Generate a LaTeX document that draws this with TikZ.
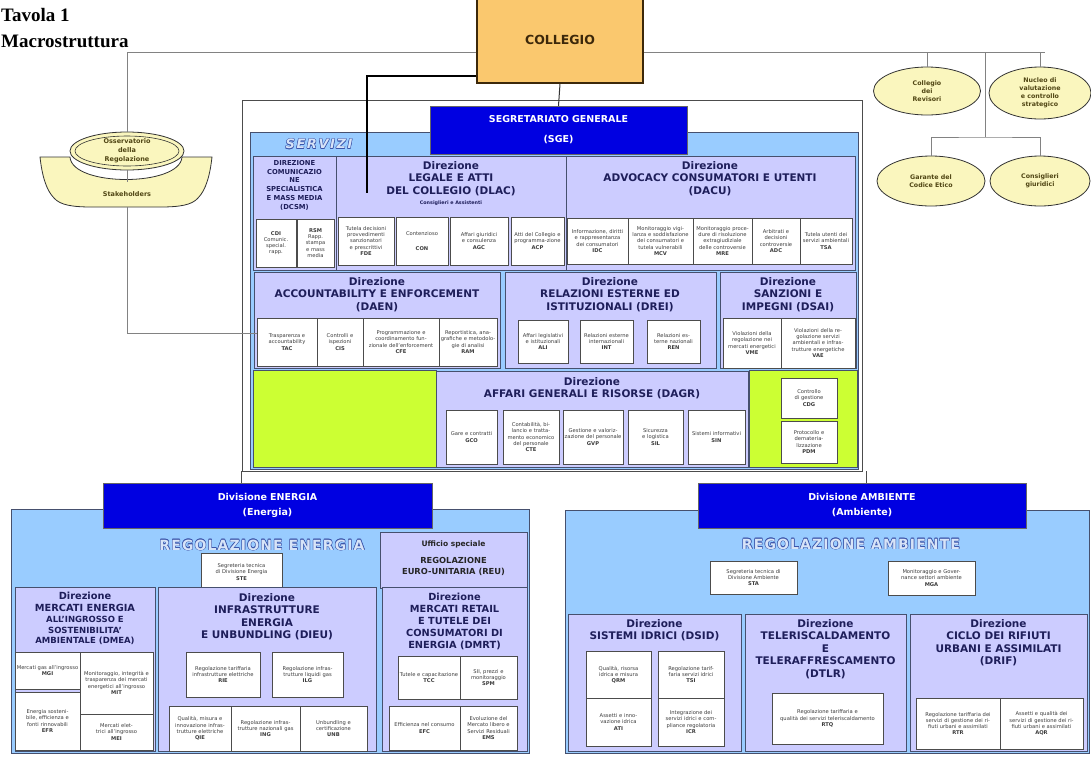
\documentclass[tikz,border=0pt]{standalone}
\usepackage{fontspec}
\setmainfont{DejaVu Sans}
\newfontfamily\serifT{Liberation Serif}
\usetikzlibrary{shapes.geometric}
\definecolor{lblue}{RGB}{153,204,255}
\definecolor{lav}{RGB}{204,204,255}
\definecolor{dblue}{RGB}{0,0,225}
\definecolor{lgreen}{RGB}{204,255,51}
\definecolor{cream}{RGB}{250,246,190}
\definecolor{corange}{RGB}{250,200,110}
\definecolor{bordc}{RGB}{70,80,110}
\definecolor{navy}{RGB}{30,30,90}
\definecolor{glinec}{RGB}{130,130,130}
\definecolor{outc}{RGB}{60,85,170}
\definecolor{outf}{RGB}{215,228,248}
\definecolor{olive}{RGB}{80,70,20}
\definecolor{stxt}{RGB}{60,60,60}
\definecolor{brownc}{RGB}{60,40,10}

\tikzset{
 dirbox/.style={draw=bordc, fill=lav, line width=0.8pt},
 subbox/.style={draw=black!70, fill=white, line width=0.6pt, font=\fontsize{5.2}{6.2}\selectfont, text=stxt},
 bgbox/.style={draw=bordc, fill=lblue, line width=0.8pt},
 divbox/.style={draw=black!60, fill=dblue, text=white, font=\bfseries\fontsize{9.5}{15}\selectfont},
 greenbox/.style={draw=bordc, fill=lgreen, line width=0.6pt},
 ttl/.style={font=\bfseries\fontsize{10.5}{12.5}\selectfont, text=navy, align=center, inner sep=0pt, anchor=north},
 ttlsmall/.style={font=\bfseries\fontsize{8.5}{10.5}\selectfont, text=navy, align=center, inner sep=0pt, anchor=north},
 ellbox/.style={ellipse, draw=black!80, fill=cream, line width=0.8pt, inner sep=0pt},
 elltxt/.style={font=\bfseries\fontsize{6.3}{8}\selectfont, text=olive, align=center, inner sep=0pt},
 conn/.style={draw=glinec, line width=1pt},
}

\newcommand\obox[7]{%
 \pgfmathsetmacro\obw{(#5)-(#3)}%
 \pgfmathsetmacro\obh{(#6)-(#4)}%
 \pgfmathsetmacro\otw{max(\obw-3,1)}%
 \node[#2, minimum width=\obw pt, minimum height=\obh pt, text width=\otw pt, align=center, inner sep=0pt] (#1) at ({((#3)+(#5))/2},{((#4)+(#6))/2}) {#7};}

\newcommand\outtext[5]{%
 \foreach \odx/\ody in {-.5/0,.5/0,0/-.5,0/.5,-.35/-.35,.35/.35,-.35/.35,.35/-.35}
   {\node[font=#4, text=outc, inner sep=0pt, xshift=\odx pt, yshift=\ody pt] at (#2,#3) {#5};}
 \node[font=#4, text=outf, inner sep=0pt] (#1) at (#2,#3) {#5};}

\begin{document}
\begin{tikzpicture}[x=1pt,y=-1pt]
\useasboundingbox[fill=white] (0,0) rectangle (1091,756);

% title
\node[font=\serifT\bfseries\fontsize{19}{23}\selectfont, anchor=base west, inner sep=0pt] (tav) at (1,21) {Tavola 1};
\node[font=\serifT\bfseries\fontsize{19}{23}\selectfont, anchor=base west, inner sep=0pt] (macro) at (1,47) {Macrostruttura};

% grey top line
\coordinate (hlA) at (127,52);
\coordinate (hlB) at (1045,52);
\draw[conn] (hlA) -- (hlB);

% right ellipses
\node[ellbox, minimum width=107pt, minimum height=48pt] (rev) at (927,91) {};
\node[elltxt] (revt) at (rev.center) {Collegio\\dei\\Revisori};
\node[ellbox, minimum width=102pt, minimum height=52pt] (nuc) at (1040,93) {};
\node[elltxt] (nuct) at (nuc.center) {Nucleo di\\valutazione\\e controllo\\strategico};
\node[ellbox, minimum width=108pt, minimum height=50pt] (gar) at (931,181) {};
\node[elltxt] (gart) at (gar.center) {Garante del\\Codice Etico};
\node[ellbox, minimum width=100pt, minimum height=50pt] (cons) at (1040,181) {};
\node[elltxt] (const) at (cons.center) {Consiglieri\\giuridici};
\coordinate (rj) at (985,52);
\coordinate (rk) at (985,137);
\draw[conn] (rev.north) -- (rev.north |- hlB);
\draw[conn] (nuc.north) -- (nuc.north |- hlB);
\draw[conn] (rj) -- (rk);
\draw[conn] (gar.north) |- (rk) -| (cons.north);

% Osservatorio / Stakeholders
\path[fill=cream, draw=black!80, line width=0.8pt] (40,157) .. controls (42,175) and (46,190) .. (54,198) .. controls (60,205) and (72,207) .. (92,207) -- (160,207) .. controls (180,207) and (192,205) .. (198,198) .. controls (206,190) and (210,175) .. (212,157) -- (182,157) .. controls (180,187) and (72,187) .. (70,157) -- cycle;
\node[ellbox, minimum width=114pt, minimum height=38pt] (obs) at (127,151) {};
\node[ellipse, draw=black!80, line width=0.6pt, minimum width=104pt, minimum height=30pt, inner sep=0pt] (obsin) at (127,151) {};
\node[elltxt, font=\bfseries\fontsize{6.5}{9}\selectfont] (obst) at (obs.center) {Osservatorio\\della\\Regolazione};
\node[elltxt, font=\bfseries\fontsize{6.5}{8}\selectfont] (stk) at (127,194) {Stakeholders};
\coordinate (bowlb) at (127,207);
\draw[conn] (obs.north) -- (obs.north |- hlA);
\draw[conn, line width=0.6pt] (obs.south) -- ++(0,12);

% Collegio
\obox{col}{draw=brownc, fill=corange, line width=1.5pt, font=\bfseries\fontsize{12.5}{14}\selectfont, text=brownc}{477}{-4}{643}{83}{COLLEGIO}

% SGE block backgrounds
\obox{sgeout}{draw=black!70, fill=white, line width=0.8pt}{242}{100}{862}{471}{}
\obox{serv}{bgbox}{250}{132}{858}{469}{}
\outtext{servt}{319}{144}{\bfseries\itshape\fontsize{13}{13}\selectfont\addfontfeature{LetterSpace=12}}{SERVIZI}
\obox{sge}{divbox, font=\bfseries\fontsize{9.5}{20}\selectfont}{430}{106}{687}{154}{SEGRETARIATO GENERALE\\(SGE)}
\draw[conn, draw=black!80] (col.south) -- (sge.north);

% Row 1 -- DCSM
\obox{DCSM}{dirbox}{253}{156}{336}{270}{}
\node[ttl, font=\bfseries\fontsize{6.8}{8.8}\selectfont] (tDCSM) at (294.5,160) {DIREZIONE\\COMUNICAZIO\\NE\\SPECIALISTICA\\E MASS MEDIA\\(DCSM)};
\obox{CDI}{subbox}{256}{219}{296}{267}{\textbf{CDI}\\Comunic.\\special.\\rapp.}
\obox{RSM}{subbox}{297}{219}{334}{267}{\textbf{RSM}\\Rapp.\\stampa\\e mass\\media}

% DLAC
\obox{DLAC}{dirbox}{336}{156}{566}{270}{}
\node[ttl] (tDLAC) at (451,161) {Direzione\\LEGALE E ATTI\\DEL COLLEGIO (DLAC)};
\node[ttl, font=\bfseries\fontsize{4.8}{5}\selectfont] (sDLAC) at (451,201) {Consiglieri e Assistenti};
\obox{FDE}{subbox}{338}{217}{394}{265}{Tutela decisioni provvedimenti sanzionatori e prescrittivi\\\textbf{FDE}}
\obox{CON}{subbox}{396}{217}{448}{265}{Contenzioso\\[8pt]\textbf{CON}}
\obox{AGC}{subbox}{450}{217}{508}{265}{Affari giuridici e consulenza\\\textbf{AGC}}
\obox{ACP}{subbox}{511}{217}{564}{265}{Atti del Collegio e programma-zione\\\textbf{ACP}}

% DACU
\obox{DACU}{dirbox}{566}{156}{855}{270}{}
\node[ttl] (tDACU) at (710,161) {Direzione\\ADVOCACY CONSUMATORI E UTENTI\\(DACU)};
\obox{IDC}{subbox}{567}{218}{628}{264}{Informazione, diritti e rappresentanza dei consumatori\\\textbf{IDC}}
\obox{MCV}{subbox}{628}{218}{693}{264}{Monitoraggio vigilanza e soddisfazione dei consumatori e tutela vulnerabili\\\textbf{MCV}}
\obox{MRE}{subbox}{693}{218}{752}{264}{Monitoraggio procedure di risoluzione extragiudiziale delle controversie\\\textbf{MRE}}
\obox{ADC}{subbox}{752}{218}{800}{264}{Arbitrati e decisioni controversie\\\textbf{ADC}}
\obox{TSA}{subbox}{800}{218}{852}{264}{Tutela utenti dei servizi ambientali\\\textbf{TSA}}

% Row 2 -- DAEN
\obox{DAEN}{dirbox}{254}{272}{500}{368}{}
\node[ttl] (tDAEN) at (377,277) {Direzione\\ACCOUNTABILITY E ENFORCEMENT\\(DAEN)};
\obox{TAC}{subbox}{257}{318}{317}{366}{Trasparenza e accountability\\\textbf{TAC}}
\obox{CIS}{subbox}{317}{318}{363}{366}{Controlli e ispezioni\\\textbf{CIS}}
\obox{CFE}{subbox}{363}{318}{439}{366}{Programmazione e coordinamento funzionale dell'enforcement\\\textbf{CFE}}
\obox{RAM}{subbox}{439}{318}{497}{366}{Reportistica, anagrafiche e metodologie di analisi\\\textbf{RAM}}
\draw[conn] (bowlb) |- (TAC.164);

% DREI
\obox{DREI}{dirbox}{505}{272}{716}{368}{}
\node[ttl] (tDREI) at (610,277) {Direzione\\RELAZIONI ESTERNE ED\\ISTITUZIONALI (DREI)};
\obox{ALI}{subbox}{518}{320}{568}{363}{Affari legislativi e istituzionali\\\textbf{ALI}}
\obox{INT}{subbox}{580}{320}{633}{363}{Relazioni esterne internazionali\\\textbf{INT}}
\obox{REN}{subbox}{647}{320}{700}{363}{Relazioni esterne nazionali\\\textbf{REN}}

% DSAI
\obox{DSAI}{dirbox}{720}{272}{856}{368}{}
\node[ttl] (tDSAI) at (788,277) {Direzione\\SANZIONI E\\IMPEGNI (DSAI)};
\obox{VME}{subbox}{723}{318}{781}{368}{Violazioni della regolazione nei mercati energetici\\\textbf{VME}}
\obox{VAE}{subbox}{781}{318}{855}{368}{Violazioni della regolazione servizi ambientali e infrastrutture energetiche\\\textbf{VAE}}

% Row 3
\obox{grL}{greenbox}{253}{370}{436}{467}{}
\obox{DAGR}{dirbox}{436}{371}{748}{467}{}
\node[ttl] (tDAGR) at (592,377) {Direzione\\AFFARI GENERALI E RISORSE (DAGR)};
\obox{GCO}{subbox}{446}{410}{497}{464}{Gare e contratti\\\textbf{GCO}}
\obox{CTE}{subbox}{503}{410}{559}{464}{Contabilità, bilancio e trattamento economico del personale\\\textbf{CTE}}
\obox{GVP}{subbox}{563}{410}{623}{464}{Gestione e valorizzazione del personale\\\textbf{GVP}}
\obox{SIL}{subbox}{628}{410}{683}{464}{Sicurezza e logistica\\\textbf{SIL}}
\obox{SIN}{subbox}{688}{410}{745}{464}{Sistemi informativi\\\textbf{SIN}}
\obox{grR}{greenbox}{749}{370}{857}{467}{}
\obox{CDG}{subbox}{781}{378}{837}{418}{Controllo di gestione\\\textbf{CDG}}
\obox{PDM}{subbox}{781}{421}{837}{463}{Protocollo e\\demateria-\\lizzazione\\\textbf{PDM}}

% thick black line from Collegio
\coordinate (thk) at (367,193);
\draw[line width=2.2pt, black] (col.south west |- 0,76) -| (thk);

% ENERGIA
\obox{regE}{bgbox}{11}{509}{529}{753}{}
\obox{divE}{divbox}{103}{483}{432}{528}{Divisione ENERGIA\\(Energia)}
\coordinate (stubE) at (241,471);
\draw[conn, draw=black!70] (stubE) -- (stubE |- divE.north);
\outtext{regEt}{262}{545}{\bfseries\fontsize{14}{14}\selectfont\addfontfeature{LetterSpace=8}}{REGOLAZIONE ENERGIA}
\obox{STE}{subbox}{201}{553}{282}{591}{Segreteria tecnica di Divisione Energia\\\textbf{STE}}
\obox{REU}{dirbox}{380}{532}{527}{588}{}
\node[ttl, font=\bfseries\fontsize{7.5}{9}\selectfont, text=black!85] (tREUa) at (453.5,541) {Ufficio speciale};
\node[ttl, font=\bfseries\fontsize{8.3}{11}\selectfont, text=black!85] (tREUb) at (453.5,557) {REGOLAZIONE\\EURO-UNITARIA (REU)};

\obox{DMEA}{dirbox}{15}{587}{155}{751}{}
\node[ttl, font=\bfseries\fontsize{9.8}{12}\selectfont] (tDMEA) at (85,592) {Direzione\\MERCATI ENERGIA};
\node[ttlsmall] (tDMEAb) at (85,616) {ALL'INGROSSO E\\SOSTENIBILITA'\\AMBIENTALE (DMEA)};
\obox{MGI}{subbox}{15}{652}{80}{689}{Mercati gas all'ingrosso\\\textbf{MGI}}
\obox{MIT}{subbox}{80}{652}{153}{714}{Monitoraggio, integrità e trasparenza dei mercati energetici all'ingrosso\\\textbf{MIT}}
\obox{EFR}{subbox}{15}{692}{80}{750}{Energia sostenibile, efficienza e fonti rinnovabili\\\textbf{EFR}}
\obox{MEI}{subbox}{80}{714}{153}{750}{Mercati elettrici all'ingrosso\\\textbf{MEI}}

\obox{DIEU}{dirbox}{158}{587}{376}{751}{}
\node[ttl] (tDIEU) at (267,593) {Direzione\\INFRASTRUTTURE\\ENERGIA\\E UNBUNDLING (DIEU)};
\obox{RIE}{subbox}{186}{652}{260}{697}{Regolazione tariffaria infrastrutture elettriche\\\textbf{RIE}}
\obox{ILG}{subbox}{272}{652}{343}{697}{Regolazione infrastrutture liquidi gas\\\textbf{ILG}}
\obox{QIE}{subbox}{169}{706}{231}{751}{Qualità, misura e innovazione infrastrutture elettriche\\\textbf{QIE}}
\obox{ING}{subbox}{231}{706}{300}{751}{Regolazione infrastrutture nazionali gas\\\textbf{ING}}
\obox{UNB}{subbox}{300}{706}{367}{751}{Unbundling e certificazione\\\textbf{UNB}}

\obox{DMRT}{dirbox}{382}{587}{527}{751}{}
\node[ttl, font=\bfseries\fontsize{9.8}{12}\selectfont] (tDMRT) at (454.5,593) {Direzione\\MERCATI RETAIL\\E TUTELE DEI\\CONSUMATORI DI\\ENERGIA (DMRT)};
\obox{TCC}{subbox}{398}{656}{460}{699}{Tutele e capacitazione\\\textbf{TCC}}
\obox{SPM}{subbox}{460}{656}{517}{699}{SII, prezzi e monitoraggio\\\textbf{SPM}}
\obox{EFC}{subbox}{389}{706}{460}{750}{Efficienza nel consumo\\\textbf{EFC}}
\obox{EMS}{subbox}{460}{706}{517}{750}{Evoluzione del Mercato libero e Servizi Residuali\\\textbf{EMS}}

% AMBIENTE
\obox{regA}{bgbox}{565}{510}{1089}{753}{}
\obox{divA}{divbox}{698}{483}{1026}{528}{Divisione AMBIENTE\\(Ambiente)}
\coordinate (stubA) at (866,471);
\draw[conn, draw=black!70] (stubA) -- (stubA |- divA.north);
\outtext{regAt}{851}{544}{\bfseries\fontsize{14}{14}\selectfont\addfontfeature{LetterSpace=8}}{REGOLAZIONE AMBIENTE}
\obox{STA}{subbox}{710}{561}{797}{594}{Segreteria tecnica di Divisione Ambiente\\\textbf{STA}}
\obox{MGA}{subbox}{888}{561}{975}{595}{Monitoraggio e Governance settori ambiente\\\textbf{MGA}}

\obox{DSID}{dirbox}{568}{614}{741}{751}{}
\node[ttl] (tDSID) at (654.5,619) {Direzione\\SISTEMI IDRICI (DSID)};
\obox{QRM}{subbox}{586}{651}{651}{698}{Qualità, risorsa idrica e misura\\\textbf{QRM}}
\obox{TSI}{subbox}{658}{651}{724}{698}{Regolazione tariffaria servizi idrici\\\textbf{TSI}}
\obox{ATI}{subbox}{586}{698}{651}{746}{Assetti e innovazione idrica\\\textbf{ATI}}
\obox{ICR}{subbox}{658}{698}{724}{746}{Integrazione dei servizi idrici e compliance regolatoria\\\textbf{ICR}}

\obox{DTLR}{dirbox}{745}{614}{906}{751}{}
\node[ttl] (tDTLR) at (825.5,619) {Direzione\\TELERISCALDAMENTO\\E\\TELERAFFRESCAMENTO\\(DTLR)};
\obox{RTQ}{subbox}{772}{693}{883}{744}{Regolazione tariffaria e\\qualità dei servizi teleriscaldamento\\\textbf{RTQ}}

\obox{DRIF}{dirbox}{910}{614}{1087}{751}{}
\node[ttl] (tDRIF) at (998.5,619) {Direzione\\CICLO DEI RIFIUTI\\URBANI E ASSIMILATI\\(DRIF)};
\obox{RTR}{subbox}{916}{698}{1000}{749}{Regolazione tariffaria dei servizi di gestione dei rifiuti urbani e assimilati\\\textbf{RTR}}
\obox{AQR}{subbox}{1000}{698}{1083}{749}{Assetti e qualità dei servizi di gestione dei rifiuti urbani e assimilati\\\textbf{AQR}}

\end{tikzpicture}
\end{document}
